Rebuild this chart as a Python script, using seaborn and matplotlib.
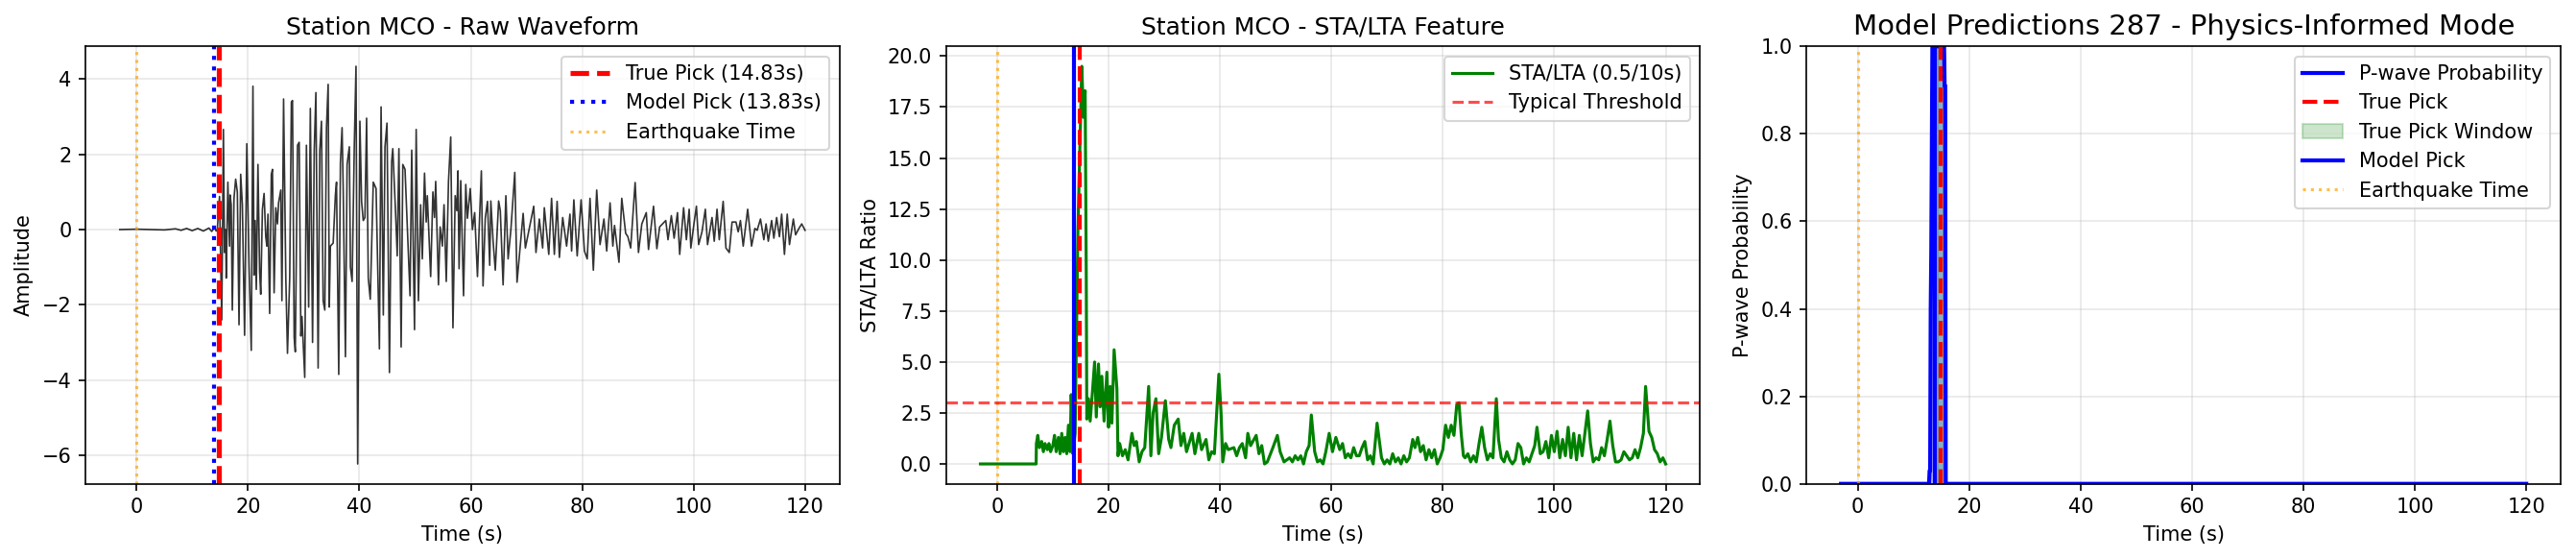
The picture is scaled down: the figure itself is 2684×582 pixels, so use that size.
import numpy as np
import pandas as pd
import seaborn as sns
import matplotlib.pyplot as plt

# picks (s)
true_pick = 14.83
model_pick = 13.83
eq_time = 0.0
threshold = 3.0

# raw waveform (time s, amplitude)
wave_time = [-3.0, 0.0, 5.0, 7.0, 8.0, 9.0, 10.0, 11.0, 12.0, 13.0, 13.5, 14.0, 14.3, 14.5,
             14.9, 15.3, 15.6, 15.8, 16.0, 16.1, 16.4, 16.7, 16.8, 17.0, 17.2, 17.5, 17.8, 18.1,
             18.4, 18.7, 19.0, 19.4, 19.8, 20.2, 20.6, 20.9, 21.1, 21.3, 21.5, 21.8, 22.1, 22.3,
             22.6, 22.9, 23.2, 23.4, 23.6, 23.9, 24.2, 24.4, 24.7, 25.0, 25.3, 25.5, 25.9, 26.1,
             26.4, 26.8, 27.1, 27.5, 27.8, 28.0, 28.3, 28.5, 28.9, 29.2, 29.5, 29.7, 30.2, 30.5,
             30.9, 31.2, 31.6, 31.9, 32.2, 32.6, 32.9, 33.2, 33.5, 33.8, 34.1, 34.4, 34.6, 34.8,
             35.3, 35.7, 35.9, 36.3, 36.6, 36.9, 37.1, 37.5, 37.8, 38.2, 38.4, 38.7, 39.1, 39.4,
             39.7, 40.1, 40.4, 40.7, 41.0, 41.3, 41.6, 41.96, 42.5, 43.0, 43.6, 43.9, 44.3, 44.6,
             44.96, 45.4, 45.8, 46.0, 46.5, 46.8, 47.1, 47.5, 47.8, 48.2, 48.5, 48.8, 49.1, 49.4,
             49.9, 50.2, 50.6, 51.0, 51.3, 51.7, 52.0, 52.2, 52.8, 53.2, 53.5, 53.7, 54.2, 54.5,
             54.9, 55.2, 55.6, 56.0, 56.4, 56.8, 57.2, 57.5, 57.7, 57.9, 58.2, 58.7, 59.1, 59.4,
             59.9, 60.3, 60.7, 61.2, 61.5, 61.9, 62.2, 62.6, 63.0, 63.4, 63.6, 64.0, 64.4, 65.0,
             65.3, 65.8, 66.3, 66.7, 67.2, 67.9, 68.3, 69.4, 69.8, 71.3, 71.7, 72.3, 72.9, 73.2,
             74.0, 74.5, 75.0, 75.5, 75.9, 76.5, 77.2, 77.8, 78.1, 78.5, 79.1, 79.8, 80.4, 80.9,
             81.4, 82.0, 82.6, 83.2, 83.9, 84.4, 85.0, 85.5, 85.8, 86.6, 87.1, 87.8, 88.2, 88.7,
             89.5, 90.1, 90.7, 91.5, 91.9, 92.8, 93.4, 93.9, 95.0, 95.4, 96.0, 96.5, 97.1, 97.5,
             98.2, 98.7, 99.2, 99.5, 100.1, 100.5, 100.9, 101.5, 102.1, 102.5, 103.3, 103.7, 104.2,
             104.6, 105.3, 105.8, 106.4, 106.9, 107.6, 108.0, 108.4, 108.9, 109.7, 110.4, 111.0,
             111.4, 112.0, 112.6, 113.0, 113.4, 114.0, 114.4, 114.9, 115.4, 115.8, 116.3, 116.8,
             117.2, 117.9, 118.3, 118.9, 119.4, 120.0]
wave_amp = [0.0, 0.01, -0.01, 0.02, -0.02, 0.03, -0.03, 0.03, -0.04, 0.04, -0.05, 0.05, -0.04, 0.0,
            0.88, -2.40, 2.66, -0.61, 0.0, -1.29, 1.26, -0.44, 0.92, 0.66, -2.14, 0.83, 1.34, 1.0,
            -2.53, 1.47, 0.66, -2.81, 2.28, -0.95, -3.21, 3.81, -1.21, 0.24, -1.59, 1.73, -1.12, -1.72,
            0.54, 0.96, -0.19, -0.44, 0.41, -2.23, 1.47, 1.60, -1.68, 0.58, 0.15, 0.71, 1.05, -1.89,
            3.47, -1.29, -3.29, -1.29, 3.39, 3.43, -2.87, -3.25, 2.24, 2.32, -2.83, -2.31, -3.93, 2.24,
            -2.06, 3.22, -3.0, 2.11, 3.64, -3.68, 2.11, 2.88, -1.89, -2.14, 2.71, 3.86, -2.06, -0.44,
            -0.36, 0.92, 1.26, -3.85, 1.77, 2.71, 1.09, -3.38, 1.73, 2.20, -1.0, -1.38, 2.28, 4.34,
            -6.23, 2.88, 0.75, 0.24, 0.32, 2.96, -1.29, -1.85, 1.26, 1.09, -3.17, 3.26, -2.27, 2.20,
            2.83, -3.80, 1.81, 2.15, 0.45, -0.70, 2.15, -3.12, 1.73, 1.60, 0.49, -0.61, -1.76, 2.11,
            -2.66, 2.66, -1.89, 0.66, -0.78, 1.50, 0.20, 0.90, -1.25, 1.0, 0.32, 1.28, -1.47, 0.07,
            -0.44, 0.66, -1.38, 1.28, 2.46, -2.61, 0.90, 0.50, 1.56, -1.04, 1.30, -1.76, 1.20, 0.30,
            1.09, 0.0, 0.45, -1.25, 0.0, 1.56, -1.50, 0.30, 0.75, -0.95, 0.76, -0.30, -1.08, 0.76,
            0.50, -1.47, 0.90, -0.78, 0.0, 1.52, -1.40, 0.43, -0.49, 0.62, -0.61, 0.28, -0.49, 0.58,
            -0.66, 0.83, -0.66, 0.75, -0.74, 0.32, -0.44, 0.41, -0.57, 0.79, -0.70, 0.79, -0.57, -0.78,
            0.83, -1.08, 1.05, -0.40, 0.28, -0.57, 0.71, -0.44, 0.11, -0.87, 0.83, -0.10, -0.19, -0.49,
            1.25, -0.61, 0.15, 0.45, -0.53, 0.62, -0.51, 0.07, 0.24, -0.27, 0.37, -0.23, 0.45, -0.66,
            0.58, -0.27, 0.54, -0.49, 0.20, 0.62, -0.40, -0.06, 0.54, -0.40, 0.32, -0.31, 0.54,
            -0.27, 0.75, -0.49, -0.61, 0.20, 0.20, -0.06, 0.24, -0.44, 0.54, -0.44, 0.03,
            -0.02, 0.28, -0.27, 0.15, -0.31, 0.24, -0.23, 0.32, -0.19, 0.41, -0.66, 0.41,
            -0.40, 0.28, -0.14, 0.03, 0.15, -0.02]

# STA/LTA (0.5/10 s)
sta_time = [-3.0, 7.0, 7.05, 7.3, 7.6, 8.0, 8.3, 8.6, 9.0, 9.3, 9.6, 10.0, 10.3, 10.6, 11.0, 11.3,
            11.6, 11.9, 12.2, 12.5, 12.8, 13.1, 13.3, 13.6, 14.0, 14.5, 15.2, 15.5, 15.8, 16.0,
            16.1, 16.4, 16.7, 17.1, 17.5, 17.8, 18.2, 18.5, 18.8, 19.2, 19.7, 20.0, 20.3, 20.6,
            21.0, 21.5, 21.7, 22.0, 22.5, 23.0, 23.5, 24.2, 24.6, 25.0, 25.5, 26.0, 26.5, 27.2,
            27.6, 28.0, 28.5, 29.0, 29.5, 30.2, 30.8, 31.2, 31.8, 32.5, 33.0, 33.5, 34.0, 35.0,
            35.5, 36.2, 36.7, 37.5, 38.0, 38.5, 39.0, 39.8, 40.2, 40.5, 41.0, 41.5, 42.5, 43.0,
            43.5, 44.0, 44.6, 45.0, 45.5, 46.5, 47.0, 47.5, 48.0, 48.5, 49.5, 50.3, 50.8, 51.5,
            52.5, 53.0, 53.5, 54.0, 54.5, 55.0, 55.5, 56.0, 56.4, 57.0, 57.5, 58.0, 58.5, 59.0,
            59.6, 60.2, 60.8, 61.5, 62.0, 62.5, 63.0, 63.5, 64.0, 64.5, 65.0, 65.5, 66.0, 66.5,
            67.0, 67.5, 68.2, 69.0, 69.5, 70.0, 70.5, 71.0, 71.5, 72.0, 72.5, 73.0, 73.5, 74.0,
            74.6, 75.0, 75.5, 76.0, 76.5, 77.0, 77.5, 78.0, 78.5, 79.0, 79.5, 80.0, 80.5, 81.0,
            81.5, 82.0, 82.5, 82.9, 83.3, 83.7, 84.0, 84.5, 85.0, 85.5, 86.0, 86.5, 87.0, 87.5,
            88.0, 88.5, 89.0, 89.6, 90.0, 90.5, 91.0, 91.5, 92.0, 92.5, 93.0, 93.5, 94.0, 94.5,
            95.0, 95.5, 96.0, 96.5, 96.9, 97.5, 98.0, 98.5, 99.0, 99.5, 100.0, 100.5, 101.0, 101.5,
            102.0, 102.5, 103.0, 103.5, 104.0, 104.5, 105.0, 105.5, 106.0, 106.5, 107.0, 107.5,
            108.0, 108.5, 109.0, 109.5, 110.0, 110.5, 111.0, 111.5, 112.0, 112.5, 113.0, 113.5,
            114.0, 114.5, 115.0, 115.5, 116.0, 116.4, 117.0, 117.5, 118.0, 118.5, 119.0, 119.5,
            120.0]
sta_ratio = [0.0, 0.0, 1.0, 1.4, 0.8, 1.1, 0.6, 1.0, 0.7, 1.0, 0.6, 0.9, 1.4, 0.6, 1.3, 0.5,
             1.5, 0.6, 1.3, 0.5, 1.9, 0.6, 3.4, 0.5, 1.5, 11.4, 19.5, 17.0, 18.3, 9.3,
             2.2, 3.2, 2.1, 3.5, 5.0, 2.3, 4.9, 2.8, 4.3, 2.1, 4.5, 1.8, 3.8, 2.0,
             5.6, 3.7, 0.4, 1.0, 0.4, 0.7, 0.2, 1.5, 0.9, 1.1, 0.1, 0.6, 0.8, 3.8,
             0.4, 2.5, 3.2, 0.5, 1.3, 3.1, 1.2, 0.8, 1.9, 2.2, 0.9, 1.5, 0.6, 1.5,
             0.5, 1.5, 0.7, 1.2, 0.2, 0.6, 0.5, 4.4, 2.5, 0.1, 1.0, 0.7, 0.8, 0.4,
             0.8, 1.0, 0.3, 1.5, 0.9, 1.4, 0.5, 0.9, 0.0, 0.1, 0.8, 1.4, 0.6, 0.1,
             0.3, 0.1, 0.4, 0.2, 0.4, 0.0, 0.6, 0.9, 2.4, 0.6, 0.1, 0.2, 0.0, 0.6,
             1.5, 0.6, 1.3, 0.7, 1.0, 0.3, 0.5, 0.3, 0.8, 0.4, 0.4, 0.8, 1.1, 0.2,
             0.4, 0.0, 2.0, 0.3, 0.0, 0.2, 0.0, 0.5, 0.1, 0.3, 0.0, 0.4, 0.1, 0.3,
             1.2, 0.8, 1.3, 0.6, 0.9, 0.2, 0.7, 0.3, 0.7, 0.0, 0.3, 0.7, 1.9, 1.3,
             1.9, 1.4, 2.9, 3.0, 1.5, 0.4, 0.3, 0.5, 0.1, 0.4, 0.1, 1.0, 1.8, 0.8,
             0.2, 0.5, 0.3, 3.2, 1.2, 0.3, 0.1, 0.6, 0.2, 0.0, 0.2, 1.0, 0.8, 0.0,
             0.3, 0.1, 0.5, 0.9, 1.8, 0.5, 0.6, 1.1, 0.3, 1.4, 0.6, 1.6, 0.3, 1.2,
             0.4, 1.8, 0.3, 1.5, 0.2, 1.4, 0.4, 1.5, 2.6, 1.0, 0.1, 0.3,
             0.2, 0.8, 0.4, 1.2, 2.1, 0.9, 0.1, 0.1, 0.2, 0.6, 0.4, 0.2,
             0.3, 0.7, 0.3, 0.8, 1.5, 3.8, 1.6, 1.3, 0.7, 0.5, 0.1, 0.3,
             0.0]

# model P-wave probability
prob_time = [-3.0, 12.8, 12.9, 13.0, 13.1, 13.2, 13.4, 15.5, 15.6, 15.7, 15.8, 120.0]
prob_value = [0.0, 0.0, 0.03, 0.03, 0.40, 0.53, 1.0, 1.0, 0.91, 0.91, 0.0, 0.0]

fig, axes = plt.subplots(1, 3, figsize=(2684 / 150, 582 / 150), dpi=150)
plt.subplots_adjust(left=0.0332, right=0.994, bottom=0.1345, top=0.917, wspace=0.1417)

# raw waveform
ax = axes[0]
sns.lineplot(x=wave_time, y=wave_amp, ax=ax, color='black', linewidth=0.8, alpha=0.8,
             sort=False, estimator=None)
ax.axvline(true_pick, color='red', linestyle='--', linewidth=2.5, label=f'True Pick ({true_pick:.2f}s)')
ax.axvline(model_pick, color='blue', linestyle=':', linewidth=2, label=f'Model Pick ({model_pick:.2f}s)')
ax.axvline(eq_time, color='orange', linestyle=':', linewidth=1.5, alpha=0.7, label='Earthquake Time')
ax.set_title('Station MCO - Raw Waveform')
ax.set_xlabel('Time (s)')
ax.set_ylabel('Amplitude')
ax.legend(loc='upper right')
ax.grid(True, alpha=0.3)

# STA/LTA
ax = axes[1]
sns.lineplot(x=sta_time, y=sta_ratio, ax=ax, color='green', linewidth=1.5,
             label='STA/LTA (0.5/10s)', sort=False, estimator=None)
ax.axvline(model_pick, color='blue', linewidth=2)
ax.axvline(true_pick, color='red', linestyle='--', linewidth=2)
ax.axvline(eq_time, color='orange', linestyle=':', linewidth=1.5, alpha=0.7)
ax.axhline(threshold, color='red', linestyle='--', linewidth=1.5, alpha=0.7, label='Typical Threshold')
ax.set_title('Station MCO - STA/LTA Feature')
ax.set_xlabel('Time (s)')
ax.set_ylabel('STA/LTA Ratio')
ax.legend(loc='upper right')
ax.grid(True, alpha=0.3)

# model predictions
ax = axes[2]
sns.lineplot(x=prob_time, y=prob_value, ax=ax, color='blue', linewidth=2,
             label='P-wave Probability', sort=False, estimator=None)
ax.fill_between(prob_time, 0, prob_value, color='blue', alpha=0.3)
ax.axvline(true_pick, color='red', linestyle='--', linewidth=2, label='True Pick')
ax.axvspan(true_pick - 0.5, true_pick + 0.5, color='green', alpha=0.2, label='True Pick Window')
ax.axvline(model_pick, color='blue', linewidth=2, label='Model Pick')
ax.axvline(eq_time, color='orange', linestyle=':', linewidth=1.5, alpha=0.7, label='Earthquake Time')
ax.set_ylim(0, 1)
ax.set_title('Model Predictions 287 - Physics-Informed Mode', fontsize=14)
ax.set_xlabel('Time (s)')
ax.set_ylabel('P-wave Probability')
ax.legend(loc='upper right')
ax.grid(True, alpha=0.3)

plt.savefig('out.png', dpi=150)
